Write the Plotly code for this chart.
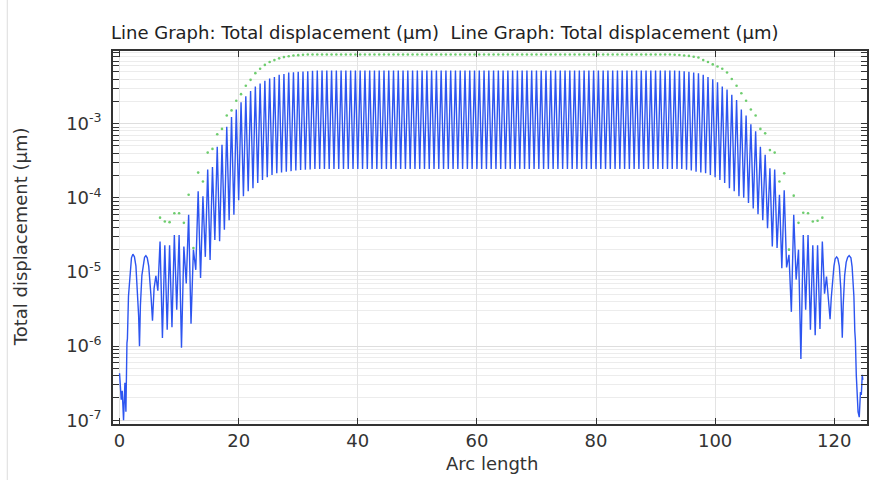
import plotly.graph_objects as go

# ---- Total displacement along the arc (µm) ----
# Left end of the line: low-level noise and the two broad lobes
left_tail_x = [0.0, 0.28, 0.45, 0.67, 0.9, 1.07, 1.24, 1.32, 1.5, 1.8, 2.0, 2.24, 2.5, 2.75,
               3.0, 3.2, 3.35, 3.5, 3.75, 4.0, 4.2, 4.42, 4.65, 4.9, 5.1, 5.3, 5.53, 5.8,
               6.1, 6.43]
left_tail_y = [4.3e-7, 1.9e-7, 2.5e-7, 1.0e-7, 3.2e-7, 1.3e-7, 1.1e-6, 1.25e-6, 4.7e-6,
               1.17e-5, 1.55e-5, 1.74e-5, 1.6e-5, 1.2e-5, 6e-6, 2.6e-6, 1.0e-6, 3.5e-6,
               9e-6, 1.35e-5, 1.58e-5, 1.66e-5, 1.55e-5, 1.2e-5, 8e-6, 4.5e-6, 2.2e-6,
               6e-6, 8.9e-6, 5.6e-6]

# Oscillation maxima
peak_x = [6.8, 7.6, 8.4, 9.2, 10.0, 10.8, 11.6, 12.4, 13.2, 14.0,
          14.8, 15.6, 16.4, 17.2, 18.0, 18.8, 19.6, 20.4, 21.2, 22.0,
          22.8, 23.6, 24.4, 25.2, 26.0, 26.8, 27.6, 28.4, 29.2, 30.0,
          30.8, 31.6, 32.4, 33.2, 34.0, 34.8, 35.6, 36.4, 37.2, 38.0,
          38.8, 39.6, 40.4, 41.2, 42.0, 42.8, 43.6, 44.4, 45.2, 46.0,
          46.8, 47.6, 48.4, 49.2, 50.0, 50.8, 51.6, 52.4, 53.2, 54.0,
          54.8, 55.6, 56.4, 57.2, 58.0, 58.8, 59.6, 60.4, 61.2, 62.0,
          62.8, 63.6, 64.4, 65.2, 66.0, 66.8, 67.6, 68.4, 69.2, 70.0,
          70.8, 71.6, 72.4, 73.2, 74.0, 74.8, 75.6, 76.4, 77.2, 78.0,
          78.8, 79.6, 80.4, 81.2, 82.0, 82.8, 83.6, 84.4, 85.2, 86.0,
          86.8, 87.6, 88.4, 89.2, 90.0, 90.8, 91.6, 92.4, 93.2, 94.0,
          94.8, 95.6, 96.4, 97.2, 98.0, 98.8, 99.6, 100.4, 101.2, 102.0,
          102.8, 103.6, 104.4, 105.2, 106.0, 106.8, 107.6, 108.4, 109.2, 110.0,
          110.8, 111.6, 112.4, 113.2, 114.0, 114.8, 115.6, 116.4, 117.2, 118.0]
peak_y = [2.57e-5, 2.3e-5, 2.3e-5, 3.16e-5, 3.16e-5, 2.2e-5, 5.9e-5, 2.0e-5, 1.23e-4, 1.05e-4,
          2.4e-4, 2.6e-4, 4.9e-4, 5.2e-4, 9.1e-4, 1.23e-3, 1.55e-3, 1.95e-3, 2.34e-3, 2.75e-3,
          3.16e-3, 3.47e-3, 3.8e-3, 4.07e-3, 4.27e-3, 4.57e-3, 4.68e-3, 4.9e-3, 4.95e-3, 5.0e-3,
          5.05e-3, 5.1e-3, 5.15e-3, 5.2e-3, 5.2e-3, 5.2e-3, 5.2e-3, 5.2e-3, 5.2e-3, 5.2e-3,
          5.2e-3, 5.2e-3, 5.2e-3, 5.2e-3, 5.2e-3, 5.2e-3, 5.2e-3, 5.2e-3, 5.2e-3, 5.2e-3,
          5.2e-3, 5.2e-3, 5.2e-3, 5.2e-3, 5.2e-3, 5.2e-3, 5.2e-3, 5.2e-3, 5.2e-3, 5.2e-3,
          5.2e-3, 5.2e-3, 5.2e-3, 5.2e-3, 5.2e-3, 5.2e-3, 5.2e-3, 5.2e-3, 5.2e-3, 5.2e-3,
          5.2e-3, 5.2e-3, 5.2e-3, 5.2e-3, 5.2e-3, 5.2e-3, 5.2e-3, 5.2e-3, 5.2e-3, 5.2e-3,
          5.2e-3, 5.2e-3, 5.2e-3, 5.2e-3, 5.2e-3, 5.2e-3, 5.2e-3, 5.2e-3, 5.2e-3, 5.2e-3,
          5.2e-3, 5.2e-3, 5.2e-3, 5.2e-3, 5.2e-3, 5.2e-3, 5.2e-3, 5.2e-3, 5.2e-3, 5.2e-3,
          5.2e-3, 5.2e-3, 5.2e-3, 5.2e-3, 5.2e-3, 5.2e-3, 5.2e-3, 5.2e-3, 5.2e-3, 5.15e-3,
          5.1e-3, 5.0e-3, 4.9e-3, 4.8e-3, 4.57e-3, 4.27e-3, 3.98e-3, 3.63e-3, 3.16e-3, 2.88e-3,
          2.45e-3, 2.09e-3, 1.55e-3, 1.29e-3, 9.8e-4, 7.9e-4, 4.9e-4, 3.8e-4, 2.5e-4, 2.4e-4,
          1.1e-4, 1.26e-4, 1.7e-5, 5.9e-5, 2.0e-5, 3.16e-5, 3.16e-5, 2.3e-5, 2.3e-5, 2.57e-5]

# Oscillation minima
trough_x = [7.2, 8.0, 8.8, 9.6, 10.4, 11.2, 12.0, 12.8, 13.6, 14.4,
            15.2, 16.0, 16.8, 17.6, 18.4, 19.2, 20.0, 20.8, 21.6, 22.4,
            23.2, 24.0, 24.8, 25.6, 26.4, 27.2, 28.0, 28.8, 29.6, 30.4,
            31.2, 32.0, 32.8, 33.6, 34.4, 35.2, 36.0, 36.8, 37.6, 38.4,
            39.2, 40.0, 40.8, 41.6, 42.4, 43.2, 44.0, 44.8, 45.6, 46.4,
            47.2, 48.0, 48.8, 49.6, 50.4, 51.2, 52.0, 52.8, 53.6, 54.4,
            55.2, 56.0, 56.8, 57.6, 58.4, 59.2, 60.0, 60.8, 61.6, 62.4,
            63.2, 64.0, 64.8, 65.6, 66.4, 67.2, 68.0, 68.8, 69.6, 70.4,
            71.2, 72.0, 72.8, 73.6, 74.4, 75.2, 76.0, 76.8, 77.6, 78.4,
            79.2, 80.0, 80.8, 81.6, 82.4, 83.2, 84.0, 84.8, 85.6, 86.4,
            87.2, 88.0, 88.8, 89.6, 90.4, 91.2, 92.0, 92.8, 93.6, 94.4,
            95.2, 96.0, 96.8, 97.6, 98.4, 99.2, 100.0, 100.8, 101.6, 102.4,
            103.2, 104.0, 104.8, 105.6, 106.4, 107.2, 108.0, 108.8, 109.6, 110.4,
            111.2, 112.0, 112.8, 113.6, 114.4, 115.2, 116.0, 116.8, 117.6]
trough_y = [1.29e-6, 1.66e-6, 1.8e-6, 3.1e-6, 9.5e-7, 7e-6, 2e-6, 1.07e-5, 8.3e-6, 1.6e-5,
            1.45e-5, 2.7e-5, 2.6e-5, 3.7e-5, 5e-5, 5.9e-5, 9.3e-5, 1.05e-4, 1.23e-4, 1.35e-4,
            1.58e-4, 1.74e-4, 1.9e-4, 2.04e-4, 2.14e-4, 2.19e-4, 2.24e-4, 2.29e-4, 2.33e-4, 2.37e-4,
            2.4e-4, 2.42e-4, 2.45e-4, 2.45e-4, 2.45e-4, 2.45e-4, 2.45e-4, 2.45e-4, 2.45e-4, 2.45e-4,
            2.45e-4, 2.45e-4, 2.45e-4, 2.45e-4, 2.45e-4, 2.45e-4, 2.45e-4, 2.45e-4, 2.45e-4, 2.45e-4,
            2.45e-4, 2.45e-4, 2.45e-4, 2.45e-4, 2.45e-4, 2.45e-4, 2.45e-4, 2.45e-4, 2.45e-4, 2.45e-4,
            2.45e-4, 2.45e-4, 2.45e-4, 2.45e-4, 2.45e-4, 2.45e-4, 2.45e-4, 2.45e-4, 2.45e-4, 2.45e-4,
            2.45e-4, 2.45e-4, 2.45e-4, 2.45e-4, 2.45e-4, 2.45e-4, 2.45e-4, 2.45e-4, 2.45e-4, 2.45e-4,
            2.45e-4, 2.45e-4, 2.45e-4, 2.45e-4, 2.45e-4, 2.45e-4, 2.45e-4, 2.45e-4, 2.45e-4, 2.45e-4,
            2.45e-4, 2.45e-4, 2.45e-4, 2.45e-4, 2.45e-4, 2.45e-4, 2.45e-4, 2.45e-4, 2.45e-4, 2.45e-4,
            2.45e-4, 2.45e-4, 2.45e-4, 2.45e-4, 2.45e-4, 2.45e-4, 2.45e-4, 2.45e-4, 2.45e-4, 2.45e-4,
            2.4e-4, 2.33e-4, 2.24e-4, 2.19e-4, 2.14e-4, 2.04e-4, 1.9e-4, 1.74e-4, 1.58e-4, 1.35e-4,
            1.23e-4, 1.05e-4, 1.0e-4, 8.5e-5, 7.2e-5, 6e-5, 5e-5, 3.9e-5, 2.2e-5, 2.1e-5,
            1.12e-5, 1.15e-5, 2.9e-6, 7.9e-6, 6.7e-7, 3.1e-6, 1.66e-6, 1.4e-6, 1.7e-6]

# Right end of the line: the two broad lobes and the end noise
right_tail_x = [118.37, 118.7, 119.3, 119.5, 119.75, 119.95, 120.15, 120.4, 120.6, 120.85,
                121.1, 121.35, 121.5, 121.75, 122.0, 122.25, 122.5, 122.8, 123.0, 123.3,
                123.45, 123.55, 123.7, 123.85, 124.0, 124.2, 124.4, 124.55, 124.7, 124.8]
right_tail_y = [5.1e-6, 8.7e-6, 2.3e-6, 4.5e-6, 8e-6, 1.2e-5, 1.5e-5, 1.6e-5, 1.52e-5, 1.2e-5,
                6e-6, 1.3e-6, 3.5e-6, 9e-6, 1.35e-5, 1.58e-5, 1.66e-5, 1.55e-5, 1.17e-5, 4.7e-6,
                1.6e-6, 1.2e-6, 4.1e-7, 2.2e-7, 1.3e-7, 1.1e-7, 2.4e-7, 2.2e-7, 4.1e-7, 3.5e-7]

# Second line graph: sampled points (drawn as dots)
dots_x = peak_x
dots_y = [5.4e-5, 4.8e-5, 4.7e-5, 6.2e-5, 6.2e-5, 4.6e-5, 1.1e-4, 2.1e-5, 2.19e-4, 1.66e-4,
          4.07e-4, 4.57e-4, 7.2e-4, 8.5e-4, 1.29e-3, 1.51e-3, 2.04e-3, 2.5e-3, 3.24e-3, 3.9e-3,
          4.8e-3, 5.5e-3, 6.2e-3, 6.8e-3, 7.2e-3, 7.6e-3, 7.9e-3, 8.1e-3, 8.3e-3, 8.4e-3,
          8.5e-3, 8.55e-3, 8.55e-3, 8.55e-3, 8.55e-3, 8.55e-3, 8.55e-3, 8.55e-3, 8.55e-3, 8.55e-3,
          8.55e-3, 8.55e-3, 8.55e-3, 8.55e-3, 8.55e-3, 8.55e-3, 8.55e-3, 8.55e-3, 8.55e-3, 8.55e-3,
          8.55e-3, 8.55e-3, 8.55e-3, 8.55e-3, 8.55e-3, 8.55e-3, 8.55e-3, 8.55e-3, 8.55e-3, 8.55e-3,
          8.55e-3, 8.55e-3, 8.55e-3, 8.55e-3, 8.55e-3, 8.55e-3, 8.55e-3, 8.55e-3, 8.55e-3, 8.55e-3,
          8.55e-3, 8.55e-3, 8.55e-3, 8.55e-3, 8.55e-3, 8.55e-3, 8.55e-3, 8.55e-3, 8.55e-3, 8.55e-3,
          8.55e-3, 8.55e-3, 8.55e-3, 8.55e-3, 8.55e-3, 8.55e-3, 8.55e-3, 8.55e-3, 8.55e-3, 8.55e-3,
          8.55e-3, 8.55e-3, 8.55e-3, 8.55e-3, 8.55e-3, 8.55e-3, 8.55e-3, 8.55e-3, 8.55e-3, 8.55e-3,
          8.55e-3, 8.55e-3, 8.55e-3, 8.55e-3, 8.55e-3, 8.55e-3, 8.55e-3, 8.55e-3, 8.5e-3, 8.45e-3,
          8.3e-3, 8.2e-3, 8.0e-3, 7.8e-3, 7.2e-3, 6.8e-3, 6.3e-3, 5.9e-3, 5.5e-3, 4.9e-3,
          4.0e-3, 3.24e-3, 2.57e-3, 2.04e-3, 1.55e-3, 1.29e-3, 8.5e-4, 7.4e-4, 4.4e-4, 4.07e-4,
          1.66e-4, 2.14e-4, 2.0e-5, 1.07e-4, 4.6e-5, 6.3e-5, 6.2e-5, 4.8e-5, 4.9e-5, 5.4e-5]

x_ticks = [0, 20, 40, 60, 80, 100, 120]
y_ticks = [1e-7, 1e-6, 1e-5, 1e-4, 1e-3]
y_tick_text = ["10<sup>-7</sup>", "10<sup>-6</sup>", "10<sup>-5</sup>",
               "10<sup>-4</sup>", "10<sup>-3</sup>"]

# Assemble the continuous line: tail, alternating max/min, tail
line_x = list(left_tail_x)
line_y = list(left_tail_y)
for i in range(len(peak_x)):
    line_x.append(peak_x[i])
    line_y.append(peak_y[i])
    if i < len(trough_x):
        line_x.append(trough_x[i])
        line_y.append(trough_y[i])
line_x += right_tail_x
line_y += right_tail_y

FONT = "DejaVu Sans"
W, H = 871, 480
ML, MR, MT, MB = 113, 2, 51, 56
PW, PH = W - ML - MR, H - MT - MB


def px_to_paper_x(px):
    return (px - ML) / PW


def px_to_paper_y(py):
    return (H - MB - py) / PH


fig = go.Figure()
fig.add_trace(go.Scatter(
    x=line_x, y=line_y, mode="lines",
    line=dict(color="rgb(45,85,240)", width=1.4),
    showlegend=False, hoverinfo="skip",
))
fig.add_trace(go.Scatter(
    x=dots_x, y=dots_y, mode="markers",
    marker=dict(color="rgb(110,205,110)", size=2.6, line=dict(width=0)),
    showlegend=False, hoverinfo="skip",
))

axis_common = dict(
    ticks="inside", ticklen=6, tickwidth=1, tickcolor="#333",
    showline=True, linecolor="#333", linewidth=1.5, mirror="ticks",
    tickfont=dict(family=FONT, size=18, color="#333"),
    zeroline=False,
)

fig.update_xaxes(
    range=[-1.1, 125.5], tickmode="array", tickvals=x_ticks,
    showgrid=True, gridcolor="#e3e3e3", gridwidth=1,
    **axis_common,
)
fig.update_yaxes(
    type="log", range=[-7.05, -2.02], tickmode="array",
    tickvals=y_ticks, ticktext=y_tick_text, ticklabelstandoff=6,
    showgrid=True, gridcolor="#dedede", gridwidth=1,
    minor=dict(dtick="D1", ticks="inside", ticklen=6, tickcolor="#333",
               showgrid=True, gridcolor="#ececec", gridwidth=1),
    **axis_common,
)

annotations = [
    dict(text="Line Graph: Total displacement (µm)  Line Graph: Total displacement (µm)",
         xref="paper", yref="paper", x=px_to_paper_x(109), y=px_to_paper_y(33),
         xanchor="left", yanchor="middle", showarrow=False,
         font=dict(family=FONT, size=18, color="#222")),
    dict(text="Total displacement (µm)", textangle=-90,
         xref="paper", yref="paper", x=px_to_paper_x(20), y=px_to_paper_y(237),
         xanchor="center", yanchor="middle", showarrow=False,
         font=dict(family=FONT, size=18, color="#333")),
    dict(text="Arc length",
         xref="paper", yref="paper", x=px_to_paper_x(493), y=px_to_paper_y(463),
         xanchor="center", yanchor="middle", showarrow=False,
         font=dict(family=FONT, size=18, color="#333")),
]

fig.update_layout(
    width=W, height=H,
    margin=dict(l=ML, r=MR, t=MT, b=MB, pad=0),
    plot_bgcolor="white", paper_bgcolor="white",
    annotations=annotations,
    shapes=[dict(type="line", xref="paper", yref="paper",
                 x0=px_to_paper_x(7), x1=px_to_paper_x(7),
                 y0=px_to_paper_y(480), y1=px_to_paper_y(0),
                 line=dict(color="#dcdcdc", width=1))],
)

fig.write_html("out.html")
